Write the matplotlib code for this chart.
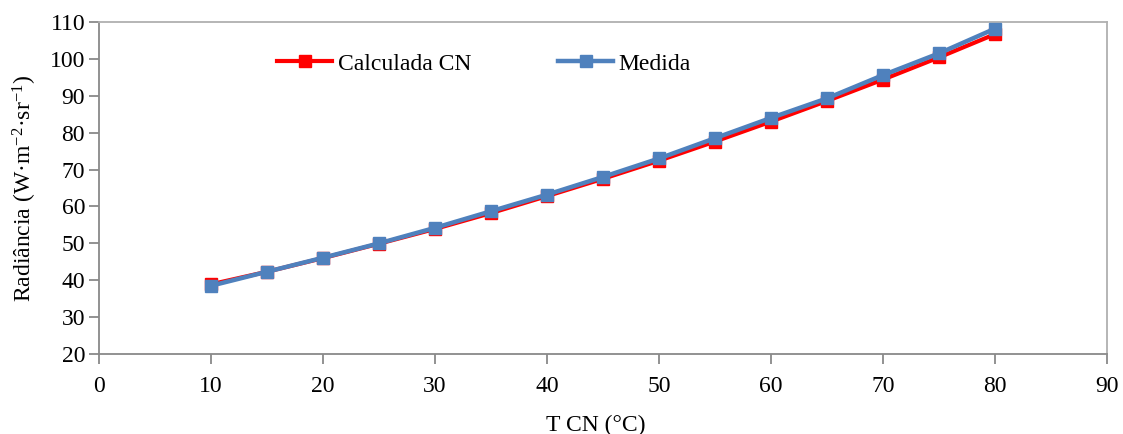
import matplotlib
matplotlib.use("Agg")
import matplotlib.pyplot as plt

plt.rcParams['font.family'] = ['Liberation Serif', 'DejaVu Serif']
plt.rcParams['mathtext.fontset'] = 'custom'
plt.rcParams['mathtext.rm'] = 'Liberation Serif'
plt.rcParams['mathtext.it'] = 'Liberation Serif'

# Temperature of the black body (°C)
temperatura = [10, 15, 20, 25, 30, 35, 40, 45, 50, 55, 60, 65, 70, 75, 80]
# Computed radiance
calculada = [38.9, 42.3, 46.0, 49.9, 53.9, 58.2, 62.8, 67.5, 72.4, 77.6, 83.0, 88.6, 94.4, 100.4, 106.7]
# Measured radiance
medida = [38.5, 42.3, 46.1, 50.0, 54.2, 58.7, 63.2, 68.0, 73.0, 78.5, 84.0, 89.3, 95.6, 101.5, 108.2]

xticks = list(range(0, 91, 10))
yticks = list(range(20, 111, 10))

fig = plt.figure(figsize=(11.23, 4.34), dpi=100)
ax = fig.add_axes([99 / 1123, 1 - 354 / 434, (1107 - 99) / 1123, (354 - 22) / 434])

ax.plot(temperatura, calculada, color='#FF0000', lw=3, marker='s', ms=8,
        label='Calculada CN', zorder=3)
ax.plot(temperatura, medida, color='#4F81BD', lw=3.2, marker='s', ms=8,
        label='Medida', zorder=4)

ax.set_xlim(0, 90)
ax.set_ylim(20, 110)
ax.set_xticks(xticks)
ax.set_yticks(yticks)

for s in ax.spines.values():
    s.set_color('#898989')
    s.set_linewidth(1.3)
ax.spines['top'].set_color('#B0B0B0')
ax.spines['right'].set_color('#B0B0B0')

ax.tick_params(axis='both', direction='out', length=7, width=1.3, color='#898989',
               labelsize=17, labelcolor='black')
ax.tick_params(axis='x', pad=9)
ax.tick_params(axis='y', pad=3)

ax.set_xlabel('T CN (°C)', fontsize=17)
ax.xaxis.set_label_coords(0.493, -0.215)
ax.xaxis.label.set_va('center')
ax.set_ylabel('Radiância (W·m$^{-2}$·sr$^{-1}$)', fontsize=17, labelpad=8)

leg = ax.legend(loc='center left', bbox_to_anchor=(0.177, 0.874), ncol=2, frameon=False,
                fontsize=17, handlelength=2.3, columnspacing=3.7, handletextpad=0.25,
                borderaxespad=0, borderpad=0)

fig.savefig('out.png', dpi=100)
